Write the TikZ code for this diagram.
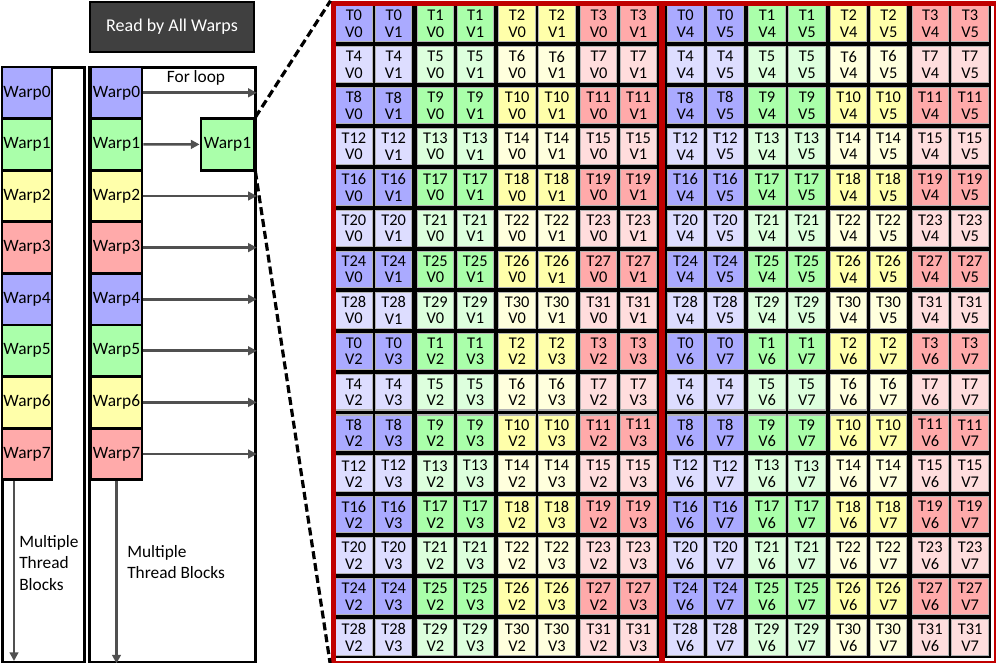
\documentclass[tikz,border=0pt]{standalone}
\usepackage{fontspec}
\setmainfont{Carlito}
\usetikzlibrary{arrows.meta}
\definecolor{c00}{HTML}{AAAAFF}
\definecolor{c01}{HTML}{AAFFAA}
\definecolor{c02}{HTML}{FFFFAA}
\definecolor{c03}{HTML}{FFAAAA}
\definecolor{c10}{HTML}{DDDDFF}
\definecolor{c11}{HTML}{DDFFDD}
\definecolor{c12}{HTML}{FFFFDD}
\definecolor{c13}{HTML}{FFDDDD}
\definecolor{framered}{HTML}{C00000}
\definecolor{darkbox}{HTML}{404040}
\definecolor{arrgray}{HTML}{505050}
\begin{document}
\begin{tikzpicture}[x=0.75pt,y=-0.75pt,
  warp/.style={draw=black, line width=2.1pt, inner sep=0pt, minimum height=38.7pt,
    font=\fontsize{13}{14}\selectfont},
  cell/.style={draw=gray!60, line width=0.8pt, inner sep=0pt, align=center,
    minimum width=27.3pt, minimum height=26.9pt, font=\fontsize{12.3}{12.3}\selectfont},
  arr/.style={draw=arrgray, line width=2pt, -{Triangle[length=6.5pt,width=6.5pt]}},
  lbl/.style={font=\fontsize{13}{16}\selectfont, inner sep=0pt, align=left}]
\useasboundingbox (0,0) rectangle (996,663);

% read box
\node[draw=black, fill=darkbox, line width=2.1pt, text=white, minimum width=123pt,
  minimum height=37.5pt, font=\fontsize{13.5}{14}\selectfont] (read) at (172,27) {Read by All Warps};

% outer boxes
\node[draw=black, line width=2.1pt, minimum width=61.5pt, minimum height=446pt,
  anchor=north west, inner sep=0pt] (boxA) at (1,66) {};
\node[draw=black, line width=2.1pt, minimum width=124.5pt, minimum height=446pt,
  anchor=north west, inner sep=0pt] (boxB) at (88,66) {};

% warps
\foreach \i in {0,...,7}{
  \pgfmathtruncatemacro\k{mod(\i,4)}
  \node[warp, fill=c0\k, minimum width=37.5pt] (wA\i) at (27,{92.8+51.6*\i}) {Warp\i};
  \node[warp, fill=c0\k, minimum width=38.25pt] (wB\i) at (116.5,{92.8+51.6*\i}) {Warp\i};
}
\node[warp, fill=c01, minimum width=39.75pt] (wone) at (227.5,144.4) {Warp1};

% loop arrows
\foreach \i in {0,2,3,4,5,6,7}{
  \draw[arr] (wB\i.east) -- (wB\i.east -| boxB.east);
}
\draw[arr] (wB1.east) -- (wone.west);
\node[font=\fontsize{13}{14}\selectfont, inner sep=0pt] (forloop) at (196,78) {For loop};

% down arrows
\coordinate (dA) at (14,661);
\draw[arr] (wA7.south -| dA) -- (dA);
\draw[arr] (wB7.south) -- (wB7.south |- boxB.south);
\node[lbl, anchor=west] (mtA) at (19,563) {Multiple\\Thread\\Blocks};
\node[lbl, anchor=west] (mtB) at (127,562) {Multiple\\Thread Blocks};

% grid background
\fill[black] (333,3.3) rectangle (659.4,658);
\fill[black] (664.6,3.3) rectangle (991,658);

% grid cells
\foreach \h in {0,1}{
 \foreach \r in {0,...,15}{
  \foreach \c in {0,...,7}{
    \pgfmathtruncatemacro\k{int(\c/2)}
    \pgfmathtruncatemacro\t{mod(\r,8)*4+\k}
    \pgfmathtruncatemacro\v{4*\h+2*int(\r/8)+mod(\c,2)}
    \pgfmathtruncatemacro\odd{mod(\c,2)}
    \pgfmathtruncatemacro\lt{mod(\r,2)}
    \pgfmathsetmacro\cx{(\h==0?333:664.6)+(\c+0.5)*40.8+(\odd==1?-0.5:0.5)}
    \pgfmathsetmacro\cy{3.3+(\r+0.5)*40.92}
    \node[cell, fill=c\lt\k] (g\h-\r-\c) at (\cx,\cy) {T\t\\V\v};
  }}}

% red frame
\node[draw=framered, line width=3.9pt, minimum width=497.25pt, minimum height=494.8pt,
  anchor=north west, inner sep=0pt] (frame) at (330.5,0.8) {};
\coordinate (divtop) at (662,0.8);
\draw[framered, line width=3.9pt] (divtop) -- (divtop |- frame.south);

% dashed zoom lines
\draw[black, line width=2.4pt, dash pattern=on 6pt off 3pt] (wone.north east) -- (frame.north west);
\draw[black, line width=2.4pt, dash pattern=on 6pt off 3pt] (wone.south east) -- (frame.south west);
\end{tikzpicture}
\end{document}
